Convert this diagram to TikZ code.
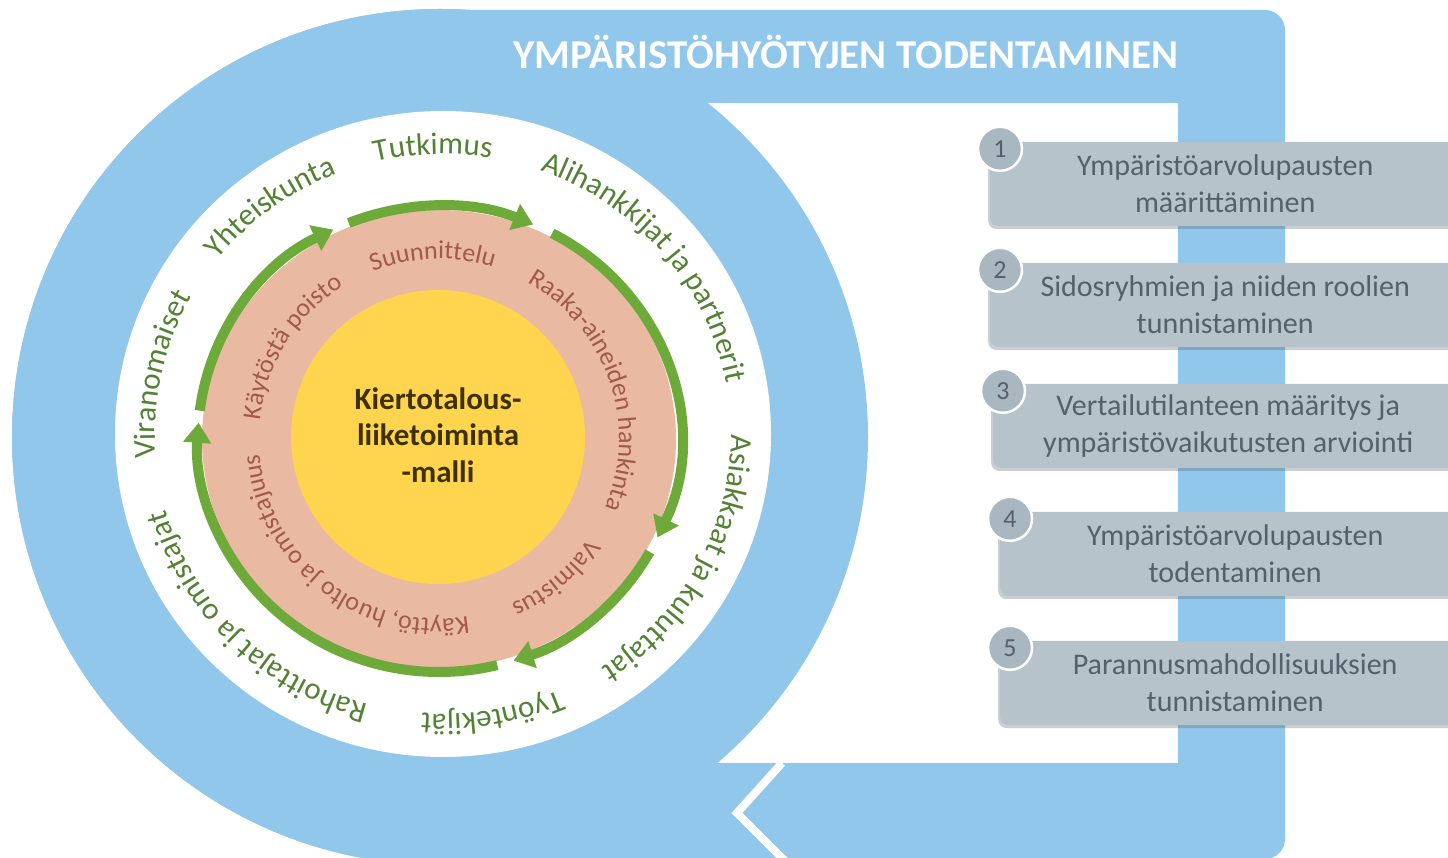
\documentclass[tikz,border=0pt]{standalone}
\usepackage{fontspec}
\setmainfont{Carlito}
\usetikzlibrary{arrows.meta,decorations.text,shadows}

\definecolor{ringblue}{HTML}{91C7EA}
\definecolor{diskpink}{HTML}{EAB9A1}
\definecolor{coreyellow}{HTML}{FFD44F}
\definecolor{arrowgreen}{HTML}{6DAA3A}
\definecolor{stakegreen}{HTML}{548235}
\definecolor{phasebrown}{HTML}{A05A48}
\definecolor{coretext}{HTML}{3F3000}
\definecolor{stepgray}{HTML}{B7C3CB}
\definecolor{dotgray}{HTML}{A9B7C1}
\definecolor{steptext}{HTML}{56606A}

\newcommand{\stakefont}{\fontsize{31}{31}\selectfont\color{stakegreen}}
\newcommand{\phasefont}{\fontsize{26}{26}\selectfont\color{phasebrown}}

\begin{document}
\begin{tikzpicture}
        [x=1pt,y=1pt,
        cyclearrow/.style={draw=arrowgreen,line width=10pt,-{Triangle[length=20pt,width=27pt]}},
        stake/.style={decorate,decoration={text along path,text align=center,text={|\stakefont|#1}}},
        phase/.style={decorate,decoration={text along path,text align=center,text={|\phasefont|#1}}},
        stepbox/.style={rounded corners=8pt,fill=stepgray,minimum width=470pt,minimum height=84pt,
          anchor=west,align=center,text=steptext,font=\fontsize{30}{37}\selectfont,
          drop shadow={shadow xshift=-2pt,shadow yshift=-3pt,fill=steptext,opacity=0.3}},
        stepdot/.style={circle,fill=dotgray,draw=white,line width=2.5pt,minimum size=44pt,
          inner sep=0pt,text=steptext,font=\fontsize{26}{26}\selectfont}]
        \useasboundingbox (0,0) rectangle (1448,857);
        \clip (0,0) rectangle (1448,857);

        \fill[ringblue] (440,420) circle[radius=428pt];
        \fill[ringblue,rounded corners=20pt] (440,-2) rectangle (1285,847);
        \fill[white] (600,94) rectangle (1178,754);
        \fill[ringblue] (440,420) circle[radius=428pt];
        \draw[white,line width=8pt] (782,94) -- (737,44) -- (787,-6);

        \fill[white] (443,423) ellipse[x radius=328pt,y radius=323pt];
        \fill[diskpink] (439,418) ellipse[x radius=237pt,y radius=229pt];
        \fill[coreyellow] (438,420) circle[radius=147pt];

        \foreach \a/\b in {173/116,112/67,62/-25,-29/-72,-76/-184}
        {\draw[cyclearrow] (439,418) ++(\a:241pt and 233pt) arc[start angle=\a,end angle=\b,x radius=241pt,y radius=233pt];}

        \path[stake={Tutkimus}] (443,423) ++(152:288pt and 280pt) arc[start angle=152,end angle=32,x radius=288pt,y radius=280pt];
        \path[stake={Yhteiskunta}] (443,423) ++(187:288pt and 280pt) arc[start angle=187,end angle=67,x radius=288pt,y radius=280pt];
        \path[stake={Viranomaiset}] (443,423) ++(228:288pt and 280pt) arc[start angle=228,end angle=108,x radius=288pt,y radius=280pt];
        \path[stake={Alihankkijat ja partnerit}] (443,423) ++(100:288pt and 280pt) arc[start angle=100,end angle=-20,x radius=288pt,y radius=280pt];
        \path[stake={Asiakkaat ja kuluttajat}] (443,423) ++(32:288pt and 280pt) arc[start angle=32,end angle=-88,x radius=288pt,y radius=280pt];
        \path[stake={Työntekijät}] (443,423) ++(-20:288pt and 280pt) arc[start angle=-20,end angle=-140,x radius=288pt,y radius=280pt];
        \path[stake={Rahoittajat ja omistajat}] (443,423) ++(-75:288pt and 280pt) arc[start angle=-75,end angle=-195,x radius=288pt,y radius=280pt];

        \path[phase={Suunnittelu}] (439,418) ++(152:180pt) arc[start angle=152,end angle=32,radius=180pt];
        \path[phase={Raaka-aineiden hankinta}] (439,418) ++(79:180pt) arc[start angle=79,end angle=-41,radius=180pt];
        \path[phase={Valmistus}] (439,418) ++(10:180pt) arc[start angle=10,end angle=-110,radius=180pt];
        \path[phase={Käyttö, huolto ja omistajuus}] (439,418) ++(-68:180pt) arc[start angle=-68,end angle=-188,radius=180pt];
        \path[phase={Käytöstä poisto}] (439,418) ++(208:180pt) arc[start angle=208,end angle=88,radius=180pt];

        \node[font=\bfseries\fontsize{31}{36.5}\selectfont,text=coretext,align=center] (core) at (438,422)
          {Kiertotalous-\\liiketoiminta\\-malli};

        \node[font=\bfseries\fontsize{41}{41}\selectfont,text=white] (title) at (846,805) {YMPÄRISTÖHYÖTYJEN TODENTAMINEN};

        \foreach \i/\xl/\yc/\txt in {1/990/673/{Ympäristöarvolupausten\\määrittäminen},
          2/990/552/{Sidosryhmien ja niiden roolien\\tunnistaminen},
          3/993/431/{Vertailutilanteen määritys ja\\ympäristövaikutusten arviointi},
          4/1000/303/{Ympäristöarvolupausten\\todentaminen},
          5/1000/174/{Parannusmahdollisuuksien\\tunnistaminen}}
        {\node[stepbox] (step\i) at (\xl,\yc) {\txt};
         \node[stepdot] (dot\i) at ([xshift=10pt,yshift=-7pt]step\i.north west) {\i};}
\end{tikzpicture}
\end{document}
